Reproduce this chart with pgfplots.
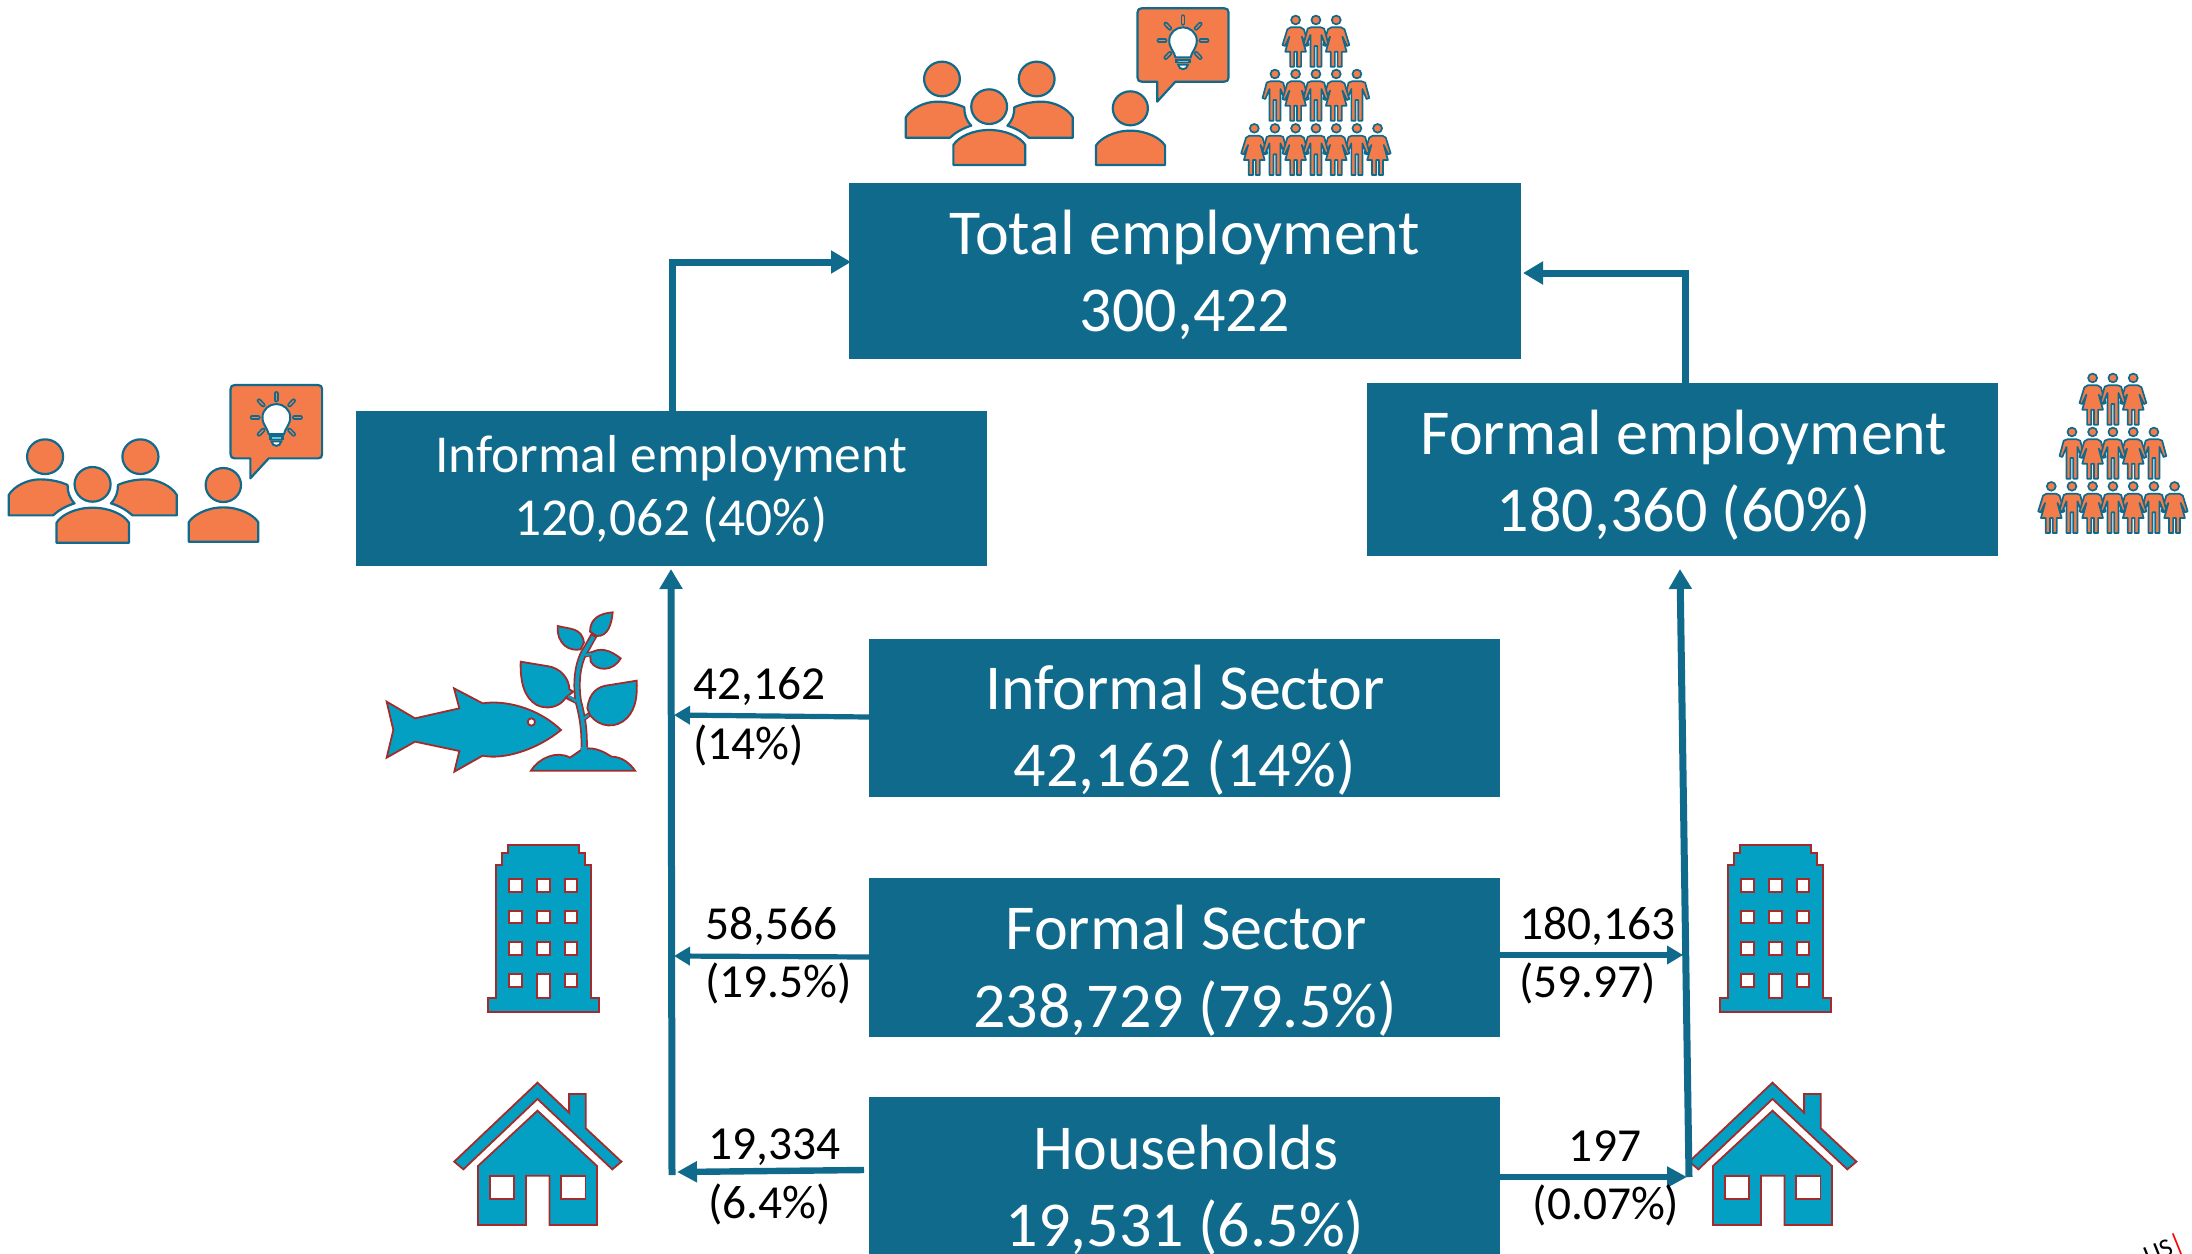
\documentclass[border=0pt]{standalone}
\usepackage{fontspec}
\setmainfont{Carlito}
\usepackage{pgfplots}
\pgfplotsset{compat=1.18}
\usetikzlibrary{arrows.meta}

\definecolor{boxc}{HTML}{0F6A8C}
\definecolor{orangec}{HTML}{F47C4A}
\definecolor{iconc}{HTML}{04A0C4}
\definecolor{redc}{HTML}{A32B2B}

\tikzset{
  ora/.style={draw=boxc,fill=orangec,line width=1.1pt,line join=round},
  blu/.style={draw=redc,fill=iconc,line width=0.9pt,line join=miter},
  win/.style={draw=redc,fill=white,line width=0.9pt},
}

% icon scope: origin is a crop corner in full pixels, local units are 1/3 pixel
\newenvironment{icon}[4]{\begin{scope}[shift={({#1*0.5pt},{(1254-#2)*0.5pt})},x={(#3*0.16667pt,0pt)},y={(0pt,-#4*0.16667pt)}]}{\end{scope}}

\newcommand{\People}{
  \draw[ora] (75,413)--(75,352) .. controls (90,325) and (130,305) .. (165,305) .. controls (195,305) and (225,312) .. (245,322) .. controls (245,345) and (250,360) .. (265,377) .. controls (240,385) and (220,397) .. (203,413)--cycle;
  \draw[ora] (560,413)--(560,352) .. controls (545,325) and (505,305) .. (470,305) .. controls (440,305) and (410,312) .. (390,322) .. controls (390,345) and (385,360) .. (370,377) .. controls (395,385) and (415,397) .. (432,413)--cycle;
  \draw[ora] (213,495)--(213,435) .. controls (228,410) and (270,390) .. (317,390) .. controls (365,390) and (407,410) .. (422,435)--(422,495)--cycle;
  \draw[ora] (180,237) circle[radius=52];
  \draw[ora] (455,237) circle[radius=52];
  \draw[ora] (317,320) circle[radius=52];
}
\newcommand{\Person}{
  \draw[ora] (727,325) circle[radius=51];
  \draw[ora] (627,495)--(627,437) .. controls (640,415) and (680,392) .. (727,392) .. controls (775,392) and (815,415) .. (828,437)--(828,495)--cycle;
  \draw[ora] (760,25)--(1000,25) .. controls (1008,25) and (1012,29) .. (1012,37)--(1012,233) .. controls (1012,241) and (1008,245) .. (1000,245)--(858,245)--(805,305)--(805,245)--(760,245) .. controls (752,245) and (748,241) .. (748,233)--(748,37) .. controls (748,29) and (752,25) .. (760,25)--cycle;
  \draw[draw=boxc,fill=white,line width=1pt] (858,172) .. controls (855,155) and (840,145) .. (840,122) .. controls (840,98) and (860,82) .. (880,82) .. controls (900,82) and (920,98) .. (920,122) .. controls (920,145) and (905,155) .. (902,172)--cycle;
  \fill[boxc] (858,176) rectangle (902,190);
  \fill[iconc!60] (866,182) rectangle (894,186);
  \draw[draw=boxc,fill=white,line width=1pt] (866,194) .. controls (868,212) and (892,212) .. (894,194)--cycle;
  \foreach \a/\b/\c/\d in {880/50/880/70,830/72/842/85,930/72/918/85,810/122/828/122,932/122/950/122,830/173/842/160,930/173/918/160}{
    \draw[boxc,line width=2.3pt,line cap=round] (\a,\b)--(\c,\d);
    \draw[orangec,line width=0.6pt,line cap=round] (\a,\b)--(\c,\d);
  }
}
\newcommand{\Woman}{
  \draw[draw=boxc,fill=orangec,line width=0.85pt,line join=round] (-14,22)--(14,22)--(24,28)--(38,75)--(31,78)--(18,50)--(30,95)--(16,95)--(16,140)--(4,140)--(4,95)--(-4,95)--(-4,140)--(-16,140)--(-16,95)--(-30,95)--(-18,50)--(-31,78)--(-38,75)--(-24,28)--cycle;
  \draw[draw=boxc,fill=orangec,line width=0.85pt] (0,0) circle[radius=13];
}
\newcommand{\Man}{
  \draw[draw=boxc,fill=orangec,line width=0.85pt,line join=round] (-14,22)--(14,22)--(24,26)--(36,72)--(28,75)--(16,45)--(16,140)--(4,140)--(4,78)--(-4,78)--(-4,140)--(-16,140)--(-16,45)--(-28,75)--(-36,72)--(-24,26)--cycle;
  \draw[draw=boxc,fill=orangec,line width=0.85pt] (0,0) circle[radius=13];
}
\newcommand{\Crowd}{
  \foreach \x/\y/\k in {1207/60/\Woman,1325/60/\Woman,1266/60/\Man,
      1147/222/\Man,1385/222/\Man,1207/222/\Woman,1325/222/\Woman,1266/222/\Man,
      1087/385/\Woman,1445/385/\Woman,1147/385/\Man,1385/385/\Man,1207/385/\Woman,1325/385/\Woman,1266/385/\Man}{
    \begin{scope}[shift={(\x,\y)}]\k\end{scope}
  }
}
\newcommand{\Fishplant}{
  \draw[blu] (80,335)--(165,385)--(298,355)--(282,295)--(368,340) .. controls (430,330) and (530,350) .. (603,420) .. controls (530,480) and (430,510) .. (368,497)--(283,545)--(298,483)--(165,455)--(80,503)--(100,420)--cycle;
  \draw[win] (514,396) circle[radius=11];
  \draw[redc,line width=3.6pt] (672,482) .. controls (675,420) and (665,370) .. (655,335) .. controls (645,270) and (655,210) .. (680,175)--(705,130);
  \draw[redc,line width=2.4pt] (620,320)--(650,335) (672,385)--(690,372) (675,195)--(700,190);
  \draw[blu] (482,215)--(560,228) .. controls (600,232) and (628,265) .. (628,298)--(640,305)--(618,322) .. controls (600,352) and (560,360) .. (530,345) .. controls (495,325) and (480,280) .. (482,215)--cycle;
  \draw[blu] (830,272)--(750,285) .. controls (715,288) and (688,305) .. (682,355)--(690,375) .. controls (720,415) and (770,415) .. (800,385) .. controls (830,355) and (832,310) .. (830,272)--cycle;
  \draw[blu] (593,108) .. controls (630,118) and (665,112) .. (672,158)--(662,178) .. controls (630,185) and (590,165) .. (593,108)--cycle;
  \draw[blu] (758,67) .. controls (720,70) and (690,85) .. (690,125)--(710,138) .. controls (745,140) and (755,100) .. (758,67)--cycle;
  \draw[blu] (782,205) .. controls (750,180) and (720,170) .. (690,190)--(692,215) .. controls (710,245) and (760,245) .. (782,205)--cycle;
  \draw[iconc,line width=1.9pt] (672,482) .. controls (675,420) and (665,370) .. (655,335) .. controls (645,270) and (655,210) .. (680,175)--(700,140);
  \draw[iconc,line width=1.2pt] (625,318)--(650,335) (672,385)--(686,375) (675,195)--(695,192);
  \draw[blu] (513,542) .. controls (535,505) and (590,480) .. (630,503)--(660,482)--(685,475) .. controls (720,475) and (745,495) .. (755,500) .. controls (785,500) and (810,520) .. (825,542)--cycle;
  \fill[iconc] (664,470) rectangle (682,492);
}
\newcommand{\Building}{
  \draw[blu] (143,545)--(143,503)--(168,503)--(168,105)--(185,105)--(185,70)--(203,70)--(203,46)--(417,46)--(417,70)--(435,70)--(435,105)--(452,105)--(452,503)--(476,503)--(476,545)--cycle;
  \foreach \a in {208,291,374}{\foreach \b in {147,242,337}{\draw[win] (\a,\b) rectangle ++(38,38);}}
  \draw[win] (208,432) rectangle ++(38,38);
  \draw[win] (374,432) rectangle ++(38,38);
  \draw[win] (291,432) rectangle ++(38,73);
}
\newcommand{\House}{
  \draw[blu] (325,128)--(418,218)--(418,162)--(467,162)--(467,265)--(572,365)--(545,388)--(325,177)--(107,388)--(80,365)--cycle;
  \draw[blu] (325,212)--(500,378)--(500,555)--(360,555)--(360,407)--(291,407)--(291,555)--(150,555)--(150,378)--cycle;
  \draw[win] (186,407) rectangle (256,477);
  \draw[win] (395,407) rectangle (466,477);
}

\begin{document}
\begin{tikzpicture}
\useasboundingbox (0,0) rectangle (1096pt,627pt);

% icons sit under the arrows
\begin{icon}{880}{0}{1.033}{1}\People\Person\Crowd\end{icon}
\begin{icon}{-17.3}{377.7}{1.04}{1}\People\end{icon}
\begin{icon}{-28.7}{376.7}{1.04}{1}\Person\end{icon}
\begin{icon}{1677}{358}{1.033}{1}\Crowd\end{icon}
\begin{icon}{360}{590}{1}{1}\Fishplant\end{icon}
\begin{icon}{440}{830}{1}{1}\Building\end{icon}
\begin{icon}{1672}{830}{1}{1}\Building\end{icon}
\begin{icon}{427}{1040}{1.02}{1}\House\end{icon}
\begin{icon}{1662}{1040}{1.02}{1}\House\end{icon}

\begin{axis}[
    scale only axis,
    width=1096pt,
    height=627pt,
    xmin=0, xmax=2192,
    ymin=0, ymax=1254,
    y dir=reverse,
    hide axis,
    clip=false,
]
% boxes
\addplot[fill=boxc,draw=none] coordinates {(849,183) (1521,183) (1521,359) (849,359)} --cycle;
\addplot[fill=boxc,draw=none] coordinates {(356,411) (987,411) (987,566) (356,566)} --cycle;
\addplot[fill=boxc,draw=none] coordinates {(1367,383) (1998,383) (1998,556) (1367,556)} --cycle;
\addplot[fill=boxc,draw=none] coordinates {(869,639) (1500,639) (1500,797) (869,797)} --cycle;
\addplot[fill=boxc,draw=none] coordinates {(869,878) (1500,878) (1500,1037) (869,1037)} --cycle;
\addplot[fill=boxc,draw=none] coordinates {(869,1097) (1500,1097) (1500,1254) (869,1254)} --cycle;

% arrows
\addplot[boxc,line width=3.5pt,-{Triangle[length=10pt,width=11pt]}] coordinates {(672,411) (672,262) (851,262)};
\addplot[boxc,line width=3.5pt,-{Triangle[length=10pt,width=11pt]}] coordinates {(1685,383) (1685,273) (1523,273)};
\addplot[boxc,line width=3.5pt,-{Triangle[length=10pt,width=11pt]}] coordinates {(672,1175) (671,569)};
\addplot[boxc,line width=3.5pt,-{Triangle[length=10pt,width=11pt]}] coordinates {(1689,1177) (1680,569)};
\addplot[boxc,line width=2.6pt,-{Triangle[length=8pt,width=9pt]}] coordinates {(869,717) (674,715)};
\addplot[boxc,line width=2.6pt,-{Triangle[length=8pt,width=9pt]}] coordinates {(869,957) (674,956)};
\addplot[boxc,line width=3.2pt,-{Triangle[length=10pt,width=10pt]}] coordinates {(864,1170) (677,1172)};
\addplot[boxc,line width=2.6pt,-{Triangle[length=8pt,width=9pt]}] coordinates {(1500,955) (1683,955)};
\addplot[boxc,line width=3.2pt,-{Triangle[length=10pt,width=10pt]}] coordinates {(1500,1177) (1687,1177)};

% box texts
\tikzset{bt/.style={text=white,font=\fontsize{32}{38}\selectfont,anchor=center,inner sep=0pt},
         bs/.style={text=white,font=\fontsize{26.7}{32}\selectfont,anchor=center,inner sep=0pt},
         lab/.style={text=black,font=\fontsize{23.7}{28}\selectfont,inner sep=0pt}}
\node[bt] at (axis cs:1185,237) {Total employment};
\node[bt] at (axis cs:1185,315) {300,422};
\node[bs] at (axis cs:671,458) {Informal employment};
\node[bs] at (axis cs:671,520) {120,062 (40\%)};
\node[bt] at (axis cs:1684,437) {Formal employment};
\node[bt] at (axis cs:1684,513) {180,360 (60\%)};
\node[bt] at (axis cs:1185,688) {Informal Sector};
\node[bt] at (axis cs:1185,768) {42,162 (14\%)};
\node[bt] at (axis cs:1186,928) {Formal Sector};
\node[bt] at (axis cs:1185,1009) {238,729 (79.5\%)};
\node[bt] at (axis cs:1186,1148) {Households};
\node[bt] at (axis cs:1185,1228) {19,531 (6.5\%)};

% flow labels
\node[lab,anchor=west] at (axis cs:693,687) {42,162};
\node[lab,anchor=west] at (axis cs:693,745) {(14\%)};
\node[lab,anchor=west] at (axis cs:705,926) {58,566};
\node[lab,anchor=west] at (axis cs:705,983) {(19.5\%)};
\node[lab,anchor=west] at (axis cs:708,1147) {19,334};
\node[lab,anchor=west] at (axis cs:708,1204) {(6.4\%)};
\node[lab,anchor=west] at (axis cs:1519,926) {180,163};
\node[lab,anchor=west] at (axis cs:1519,983) {(59.97)};
\node[lab,anchor=center] at (axis cs:1605,1146) {197};
\node[lab,anchor=center] at (axis cs:1606,1205) {(0.07\%)};

% cut-off text in the corner
\node[font=\fontsize{13}{15}\selectfont,rotate=22,inner sep=0pt,anchor=center] at (axis cs:2164,1250) {US\textcolor{red}{|}};
\end{axis}
\end{tikzpicture}
\end{document}
